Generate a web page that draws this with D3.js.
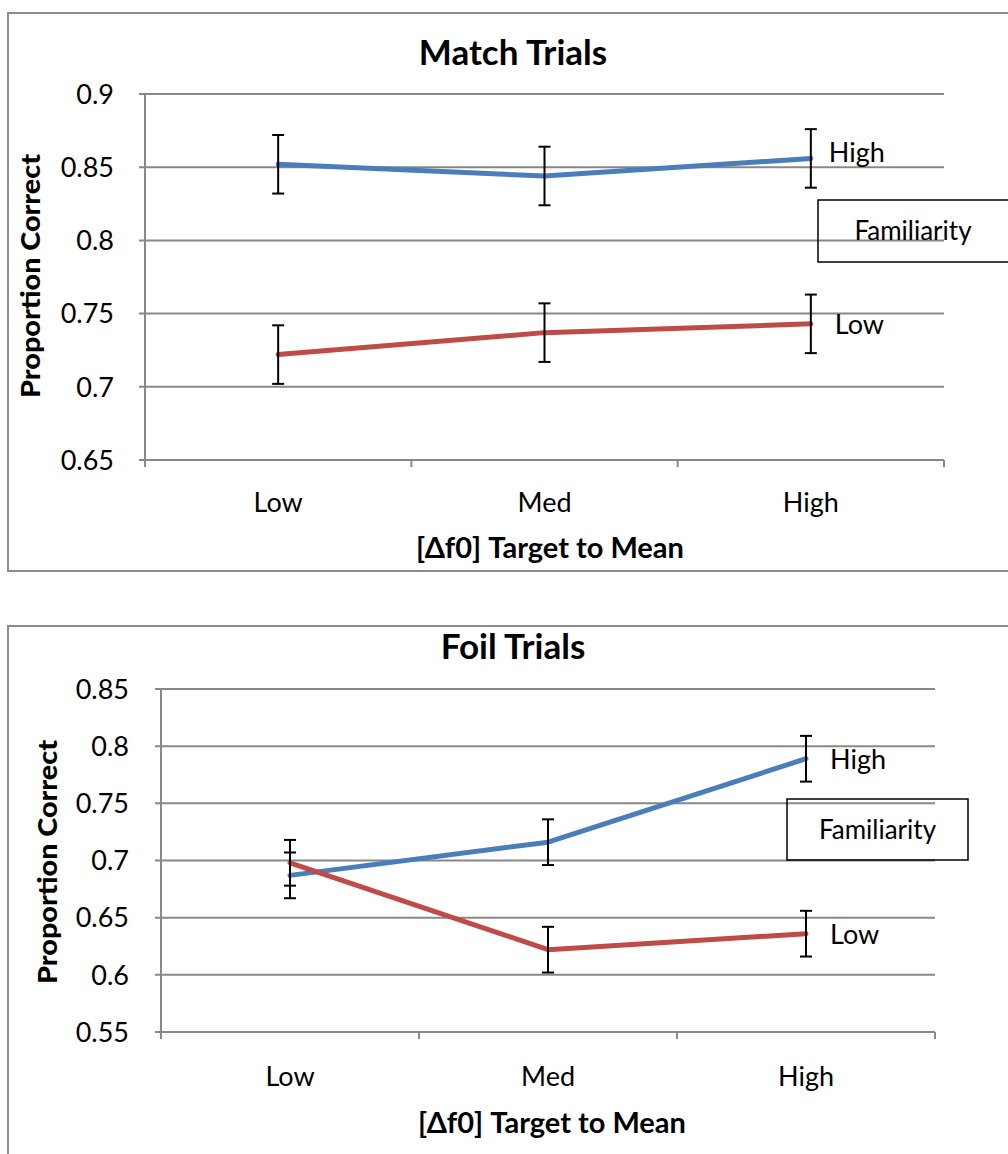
<!DOCTYPE html>
<html>
<head>
<meta charset="utf-8">
<script src="https://cdn.jsdelivr.net/npm/d3@7"></script>
<style>
  html, body { margin: 0; padding: 0; background: #fff; }
  svg { display: block; }
  text { font-family: Lato, "Open Sans", sans-serif; fill: #000; }
</style>
</head>
<body>
<svg id="chart" width="1008" height="1154"></svg>
<script>
// Categories of Δf0 distance between target and mean
const categories = ["Low", "Med", "High"];

// Match trials: proportion correct by familiarity
const matchHigh = [0.852, 0.844, 0.856];
const matchLow = [0.722, 0.737, 0.743];
const matchHighErr = [0.02, 0.02, 0.02];
const matchLowErr = [0.02, 0.02, 0.02];
const matchTicks = [0.65, 0.7, 0.75, 0.8, 0.85, 0.9];

// Foil trials: proportion correct by familiarity
const foilHigh = [0.687, 0.716, 0.789];
const foilLow = [0.698, 0.622, 0.636];
const foilHighErr = [0.02, 0.02, 0.02];
const foilLowErr = [0.02, 0.02, 0.02];
const foilTicks = [0.55, 0.6, 0.65, 0.7, 0.75, 0.8, 0.85];

const seriesNames = ["High", "Low"];
const seriesColors = { High: "#4a7ebb", Low: "#be4b48" };

const svg = d3.select("#chart");

function drawPanel(p) {
  const g = svg.append("g");

  // panel frame
  g.append("rect")
    .attr("x", p.frame[0]).attr("y", p.frame[1])
    .attr("width", p.frame[2]).attr("height", p.frame[3])
    .attr("fill", "none").attr("stroke", "#8c8c8c").attr("stroke-width", 2);

  const x = d3.scaleBand().domain(categories).range(p.xRange).padding(0);
  const y = d3.scaleLinear().domain(d3.extent(p.ticks)).range(p.yRange);

  // horizontal gridlines
  g.append("g").selectAll("line").data(p.ticks).join("line")
    .attr("x1", p.xRange[0] - 6).attr("x2", p.xRange[1])
    .attr("y1", d => y(d)).attr("y2", d => y(d))
    .attr("stroke", "#888").attr("stroke-width", 2);

  // y axis line
  g.append("line")
    .attr("x1", p.xRange[0]).attr("x2", p.xRange[0])
    .attr("y1", p.yRange[1]).attr("y2", p.yRange[0])
    .attr("stroke", "#888").attr("stroke-width", 2);

  // x axis category boundary ticks
  const bounds = categories.map(c => x(c)).concat([p.xRange[1]]);
  g.append("g").selectAll("line").data(bounds).join("line")
    .attr("x1", d => d).attr("x2", d => d)
    .attr("y1", p.yRange[0]).attr("y2", p.yRange[0] + 7)
    .attr("stroke", "#888").attr("stroke-width", 2);

  // y tick labels
  g.append("g").selectAll("text").data(p.ticks).join("text")
    .attr("x", p.yLabelX).attr("y", d => y(d))
    .attr("dy", "0.36em")
    .attr("text-anchor", "end")
    .style("font-size", "27px")
    .text(d => String(d));

  // x tick labels
  g.append("g").selectAll("text").data(categories).join("text")
    .attr("x", d => x(d) + x.bandwidth() / 2).attr("y", p.xLabelY)
    .attr("text-anchor", "middle")
    .style("font-size", "27px")
    .text(d => d);

  // title
  g.append("text")
    .attr("x", p.titleX).attr("y", p.titleY)
    .attr("text-anchor", "middle")
    .style("font-size", "35px").style("font-weight", "bold")
    .text(p.title);

  // x axis title
  g.append("text")
    .attr("x", p.xTitleX).attr("y", p.xTitleY)
    .attr("text-anchor", "middle")
    .style("font-size", "29px").style("font-weight", "bold")
    .text("[Δf0] Target to Mean");

  // y axis title
  g.append("text")
    .attr("transform", `translate(${p.yTitleX},${p.yTitleCY}) rotate(-90)`)
    .attr("text-anchor", "middle")
    .attr("textLength", 244).attr("lengthAdjust", "spacingAndGlyphs")
    .style("font-size", "26px").style("font-weight", "900")
    .text("Proportion Correct");

  const cx = c => x(c) + x.bandwidth() / 2;
  const line = d3.line().x(d => cx(d.cat)).y(d => y(d.v));

  seriesNames.forEach(name => {
    const vals = p.series[name];
    const errs = p.errors[name];
    const pts = categories.map((c, i) => ({ cat: c, v: vals[i], e: errs[i] }));

    g.append("path").datum(pts)
      .attr("d", line)
      .attr("fill", "none")
      .attr("stroke", seriesColors[name])
      .attr("stroke-width", 5)
      .attr("stroke-linejoin", "round")
      .attr("stroke-linecap", "round");

    // error bars
    const eb = g.append("g").attr("stroke", "#000").attr("stroke-width", 2);
    pts.forEach(d => {
      const xc = cx(d.cat);
      eb.append("line").attr("x1", xc).attr("x2", xc)
        .attr("y1", y(d.v + d.e)).attr("y2", y(d.v - d.e));
      [d.v + d.e, d.v - d.e].forEach(v => {
        eb.append("line").attr("x1", xc - 6).attr("x2", xc + 6)
          .attr("y1", y(v)).attr("y2", y(v));
      });
    });

    // series label at the last point
    const last = pts[pts.length - 1];
    g.append("text")
      .attr("x", cx(last.cat) + p.labelDx[name])
      .attr("y", y(last.v) + p.labelDy[name])
      .attr("dy", "0.36em")
      .style("font-size", "27px")
      .text(name);
  });

  // familiarity caption box
  g.append("rect")
    .attr("x", p.box[0]).attr("y", p.box[1])
    .attr("width", p.box[2]).attr("height", p.box[3])
    .attr("fill", "none").attr("stroke", "#000").attr("stroke-width", 1.5);
  g.append("text")
    .attr("x", p.box[0] + p.box[2] / 2 + p.boxTextDx).attr("y", p.box[1] + p.box[3] / 2)
    .attr("dy", "0.36em")
    .attr("text-anchor", "middle")
    .style("font-size", "26px")
    .text("Familiarity");
}

drawPanel({
  title: "Match Trials",
  frame: [8, 13, 1010, 558],
  xRange: [145, 944],
  yRange: [460, 94],
  ticks: matchTicks,
  series: { High: matchHigh, Low: matchLow },
  errors: { High: matchHighErr, Low: matchLowErr },
  yLabelX: 114,
  xLabelY: 512,
  titleX: 513, titleY: 65,
  xTitleX: 550, xTitleY: 558,
  yTitleX: 40, yTitleCY: 276,
  labelDx: { High: 18, Low: 24 },
  labelDy: { High: -6, Low: 0 },
  box: [818, 200, 200, 62],
  boxTextDx: -5
});

drawPanel({
  title: "Foil Trials",
  frame: [8, 626, 1010, 540],
  xRange: [161, 935],
  yRange: [1032, 689],
  ticks: foilTicks,
  series: { High: foilHigh, Low: foilLow },
  errors: { High: foilHighErr, Low: foilLowErr },
  yLabelX: 129,
  xLabelY: 1086,
  titleX: 513, titleY: 659,
  xTitleX: 552, xTitleY: 1133,
  yTitleX: 57, yTitleCY: 862,
  labelDx: { High: 24, Low: 24 },
  labelDy: { High: 1, Low: 1 },
  box: [787, 799, 181, 61],
  boxTextDx: 0
});
</script>
</body>
</html>
